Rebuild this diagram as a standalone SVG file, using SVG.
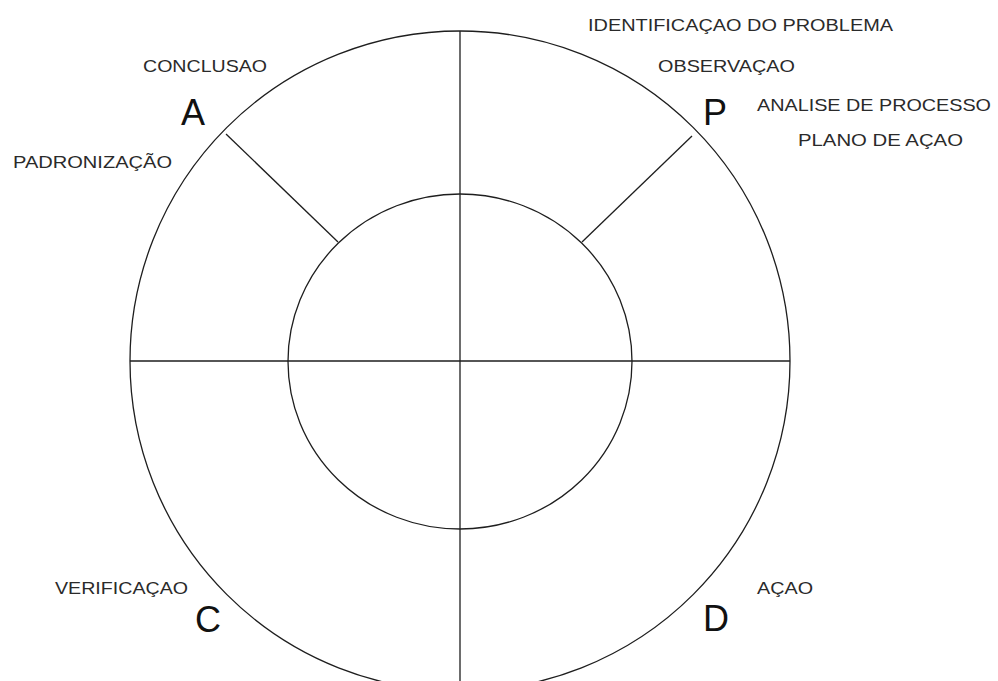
<svg xmlns="http://www.w3.org/2000/svg" width="998" height="681" viewBox="0 0 998 681">
<style>
.ln{fill:none;stroke:#1e1e1e;stroke-width:1.3}
.t{font-family:"Liberation Sans",Arial,sans-serif;font-size:16.5px;fill:#2a2a2a}
.big{font-family:"Liberation Sans",Arial,sans-serif;font-size:36px;fill:#111}
</style>
<rect width="998" height="681" fill="#fff"/>
<g id="connectors">
<ellipse class="ln" cx="460" cy="361" rx="330" ry="330"/>
<ellipse class="ln" cx="460" cy="361.5" rx="172" ry="167.5"/>
<line class="ln" x1="460" y1="31" x2="460" y2="681"/>
<line class="ln" x1="130" y1="361" x2="790" y2="361"/>
<line class="ln" x1="226" y1="134" x2="338" y2="242"/>
<line class="ln" x1="692" y1="136" x2="582" y2="242"/>
</g>
<g id="P">
<text class="big" x="703" y="125">P</text>
<text class="t" x="588" y="31" textLength="305" lengthAdjust="spacingAndGlyphs">IDENTIFICAÇAO DO PROBLEMA</text>
<text class="t" x="658" y="72" textLength="137" lengthAdjust="spacingAndGlyphs">OBSERVAÇAO</text>
<text class="t" x="757" y="111" textLength="234" lengthAdjust="spacingAndGlyphs">ANALISE DE PROCESSO</text>
<text class="t" x="798" y="146" textLength="165" lengthAdjust="spacingAndGlyphs">PLANO DE AÇAO</text>
</g>
<g id="A">
<text class="big" x="181" y="125">A</text>
<text class="t" x="143" y="72" textLength="124" lengthAdjust="spacingAndGlyphs">CONCLUSAO</text>
<text class="t" x="13" y="168" textLength="159" lengthAdjust="spacingAndGlyphs">PADRONIZAÇÃO</text>
</g>
<g id="C">
<text class="big" x="195" y="632">C</text>
<text class="t" x="55" y="594" textLength="133" lengthAdjust="spacingAndGlyphs">VERIFICAÇAO</text>
</g>
<g id="D">
<text class="big" x="703" y="631">D</text>
<text class="t" x="757" y="594" textLength="56" lengthAdjust="spacingAndGlyphs">AÇAO</text>
</g>
</svg>
